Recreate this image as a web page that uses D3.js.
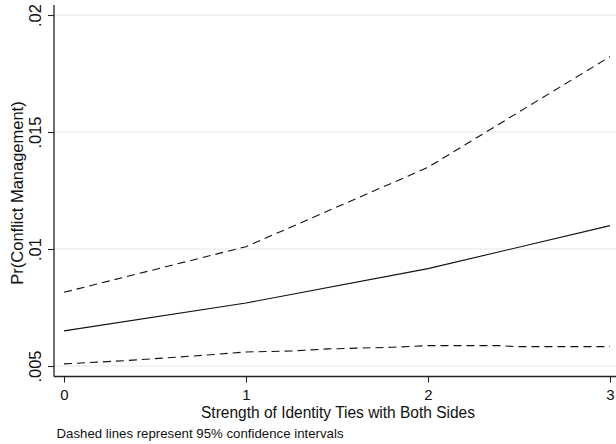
<!DOCTYPE html>
<html>
<head>
<meta charset="utf-8">
<script src="https://cdn.jsdelivr.net/npm/d3@7"></script>
<style>
  html, body { margin: 0; padding: 0; background: #fff; }
  svg { display: block; }
  text { font-family: "Liberation Sans", Arial, sans-serif; fill: #111; }
</style>
</head>
<body>
<svg id="chart" width="616" height="444"></svg>
<script>
// ---- data ----
const xTicks = [0, 1, 2, 3];
const xTickLabels = ["0", "1", "2", "3"];
const yTicks = [0.005, 0.01, 0.015, 0.02];
const yTickLabels = [".005", ".01", ".015", ".02"];

const estX = [0, 1, 2, 3];
const estimate = [0.00650, 0.00769, 0.00916, 0.01100];
const upperX = [0, 1, 2, 3];
const upper = [0.00815, 0.01010, 0.01349, 0.01822];
const lowerX = [0, 0.34, 0.79, 1, 1.25, 1.45, 1.8, 2, 2.4, 2.47, 3];
const lower = [0.00509, 0.00523, 0.00547, 0.00560, 0.00564, 0.00573, 0.00580, 0.00587, 0.00587, 0.00583, 0.00583];

const xTitle = "Strength of Identity Ties with Both Sides";
const yTitle = "Pr(Conflict Management)";
const note = "Dashed lines represent 95% confidence intervals";

// ---- layout ----
const svg = d3.select("#chart");
const axisX0 = 54, axisY0 = 376.5;
const x = d3.scaleLinear().domain([0, 3]).range([64, 610]);
const y = d3.scaleLinear().domain([0.005, 0.02]).range([366, 15]);

// gridlines
svg.append("g").selectAll("line").data(yTicks).join("line")
  .attr("x1", axisX0).attr("x2", 616)
  .attr("y1", d => y(d)).attr("y2", d => y(d))
  .attr("stroke", "#e8e8e8").attr("stroke-width", 1.2);

// lines
const line = d3.line().x(d => x(d[0])).y(d => y(d[1]));
const series = [
  { xs: upperX, ys: upper, dash: "8,5" },
  { xs: lowerX, ys: lower, dash: "8,5" },
  { xs: estX, ys: estimate, dash: null }
];
series.forEach(s => {
  svg.append("path")
    .datum(s.xs.map((v, i) => [v, s.ys[i]]))
    .attr("d", line)
    .attr("fill", "none")
    .attr("stroke", "#111")
    .attr("stroke-width", 1.1)
    .attr("stroke-dasharray", s.dash);
});

// axes
const yAxis = d3.axisLeft(y).tickValues(yTicks)
  .tickFormat((d, i) => yTickLabels[i]).tickSize(6);
const gy = svg.append("g").attr("transform", `translate(${axisX0},0)`).call(yAxis);
gy.select(".domain").remove();
gy.selectAll(".tick line").attr("stroke", "#222").attr("stroke-width", 1.1);
gy.selectAll(".tick text")
  .attr("x", null).attr("dy", null)
  .attr("transform", "translate(-13.5,0) rotate(-90)")
  .attr("text-anchor", "middle")
  .style("font-size", "16.5px")
  .style("font-family", "'Liberation Sans', Arial, sans-serif")
  .attr("fill", "#111");

const xAxis = d3.axisBottom(x).tickValues(xTicks)
  .tickFormat((d, i) => xTickLabels[i]).tickSize(6);
const gx = svg.append("g").attr("transform", `translate(0,${axisY0})`).call(xAxis);
gx.select(".domain").remove();
gx.selectAll(".tick line").attr("stroke", "#222").attr("stroke-width", 1.1);
gx.selectAll(".tick text")
  .attr("y", 23.5).attr("dy", null)
  .style("font-size", "15px")
  .style("font-family", "'Liberation Sans', Arial, sans-serif")
  .attr("fill", "#111");

// axis lines
svg.append("line").attr("x1", axisX0).attr("x2", axisX0).attr("y1", 5).attr("y2", axisY0)
  .attr("stroke", "#222").attr("stroke-width", 1.3);
svg.append("line").attr("x1", axisX0).attr("x2", 616).attr("y1", axisY0).attr("y2", axisY0)
  .attr("stroke", "#222").attr("stroke-width", 1.3);

// titles
svg.append("text").text(xTitle)
  .attr("x", 338).attr("y", 418)
  .attr("text-anchor", "middle")
  .attr("textLength", 274).attr("lengthAdjust", "spacingAndGlyphs")
  .style("font-size", "16px");

svg.append("text").text(yTitle)
  .attr("transform", "translate(22.5,193) rotate(-90)")
  .attr("text-anchor", "middle")
  .style("font-size", "16.5px");

svg.append("text").text(note)
  .attr("x", 56.5).attr("y", 437.5)
  .attr("textLength", 287).attr("lengthAdjust", "spacingAndGlyphs")
  .style("font-size", "13.5px");
</script>
</body>
</html>
